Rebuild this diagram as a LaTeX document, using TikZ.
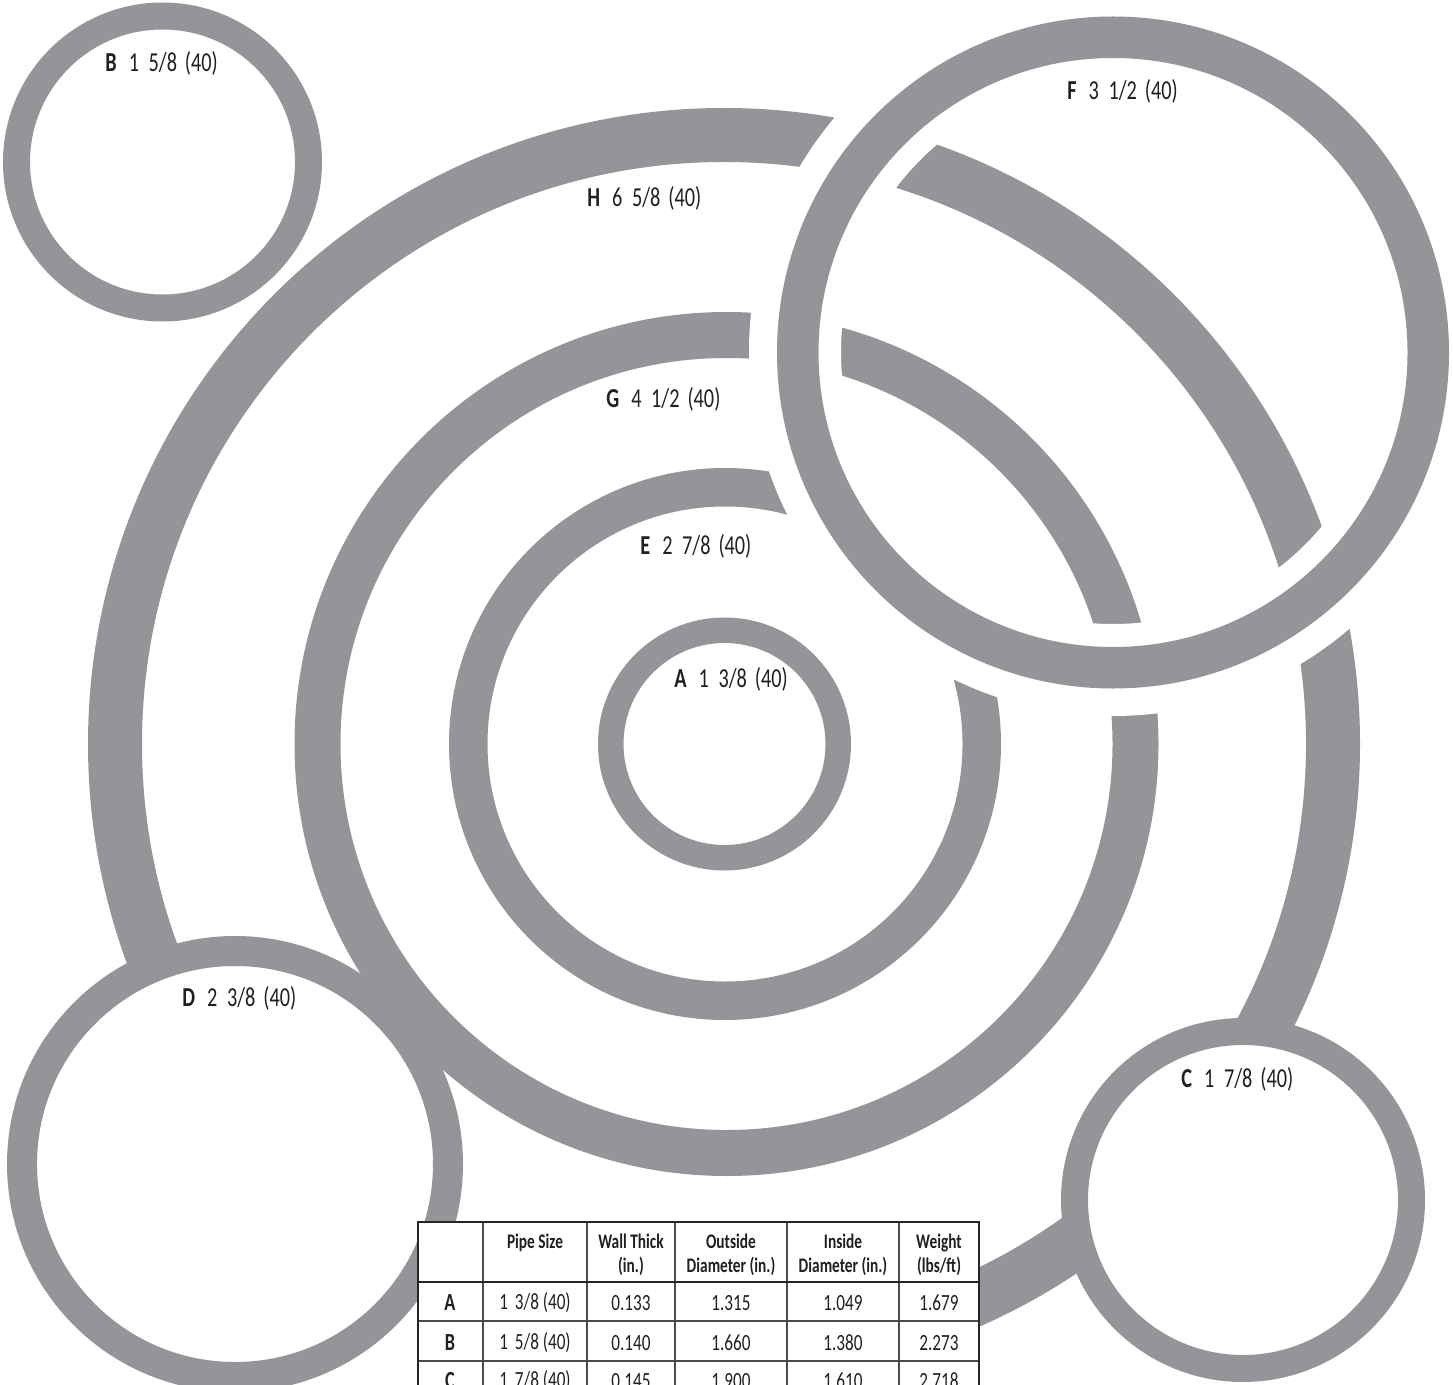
\documentclass[tikz,border=0pt]{standalone}
\usepackage{fontspec}
\setmainfont[FakeStretch=0.74]{Carlito}
\definecolor{pipegrau}{HTML}{939598}
\definecolor{schrift}{HTML}{231F20}
\tikzset{
  rohr/.style={pipegrau,line width=#1*0.02cm},
  luecke/.style={white,line width=#1*0.02cm},
  lbl/.style={anchor=west,schrift,inner sep=0pt,font=\fontsize{15.6}{18}\selectfont},
  kopf/.style={anchor=north,schrift,inner sep=0pt,align=center,font=\fontsize{11.8}{13.6}\selectfont\bfseries},
  zelle/.style={schrift,inner sep=0pt,font=\fontsize{13.2}{15}\selectfont},
  zeile/.style={schrift,font=\fontsize{14}{16}\selectfont\bfseries,inner sep=0pt},
  rand/.style={black!85,line width=1.5pt},
  gitter/.style={black!70,line width=0.7pt},
}
\newcommand{\pipe}[3]{\textbf{#1}\hspace{0.44em}#2\hspace{0.29em}#3}
\begin{document}
\begin{tikzpicture}[x=0.02cm,y=-0.02cm]
  \useasboundingbox (0,0) rectangle (1453,1385);
  \clip (0,0) rectangle (1453,1385);
  % concentric rings
  \draw[rohr=54] (724,744) circle (609);
  \draw[rohr=46] (726.5,744) circle (409);
  \draw[rohr=38.5] (725,744) circle (256.75);
  \draw[rohr=25.5] (724.5,744) circle (113.75);
  % gap round F, then the loose circles
  \draw[luecke=92] (1113,352) circle (318);
  \draw[rohr=30,fill=white] (235,1164) circle (213);
  \draw[rohr=27,fill=white] (1243,1200) circle (168.5);
  \draw[rohr=27,fill=white] (162.5,162) circle (146);
  \draw[rohr=41.5] (1113,352.5) circle (315.25);
  % labels
  \node[lbl] (labelB) at (105,63) {\pipe{B}{1\hspace{0.35em}5/8}{(40)}};
  \node[lbl] (labelF) at (1067,91) {\pipe{F}{3\hspace{0.35em}1/2}{(40)}};
  \node[lbl] (labelH) at (587,198) {\pipe{H}{6\hspace{0.35em}5/8}{(40)}};
  \node[lbl] (labelG) at (606,399) {\pipe{G}{4\hspace{0.35em}1/2}{(40)}};
  \node[lbl] (labelE) at (640,546) {\pipe{E}{2\hspace{0.35em}7/8}{(40)}};
  \node[lbl] (labelA) at (674,679) {\pipe{A}{1\hspace{0.35em}3/8}{(40)}};
  \node[lbl] (labelD) at (182,998) {\pipe{D}{2\hspace{0.35em}3/8}{(40)}};
  \node[lbl] (labelC) at (1181,1079) {\pipe{C}{1\hspace{0.35em}7/8}{(40)}};
  % table
  \fill[white] (418,1222) rectangle (979,1385);
  \foreach \xx in {483,587,675,787,899} \draw[gitter] (\xx,1222) -- (\xx,1385);
  \foreach \yy in {1321,1361} \draw[gitter] (418,\yy) -- (979,\yy);
  \draw[rand] (418,1385) -- (418,1222) -- (979,1222) -- (979,1385);
  \draw[rand] (418,1282) -- (979,1282);
  \node[kopf] (kopfsize) at (535,1234) {Pipe Size};
  \node[kopf] (kopfwall) at (631,1234) {Wall Thick\\(in.)};
  \node[kopf] (kopfod) at (731,1234) {Outside\\Diameter (in.)};
  \node[kopf] (kopfid) at (843,1234) {Inside\\Diameter (in.)};
  \node[kopf] (kopfgew) at (939,1234) {Weight\\(lbs/ft)};
  \foreach \nm/\yy/\sz/\wa/\od/\id/\gw in {A/1303/{1\hspace{0.3em}3/8 (40)}/0.133/1.315/1.049/1.679,
      B/1343/{1\hspace{0.3em}5/8 (40)}/0.140/1.660/1.380/2.273,
      C/1381/{1\hspace{0.3em}7/8 (40)}/0.145/1.900/1.610/2.718}{
    \node[zeile] (zeile\nm) at (450,\yy) {\nm};
    \node[zelle] (size\nm) at (535,\yy) {\sz};
    \node[zelle] (wall\nm) at (631,\yy) {\wa};
    \node[zelle] (od\nm) at (731,\yy) {\od};
    \node[zelle] (id\nm) at (843,\yy) {\id};
    \node[zelle] (gew\nm) at (939,\yy) {\gw};
  }
\end{tikzpicture}
\end{document}
